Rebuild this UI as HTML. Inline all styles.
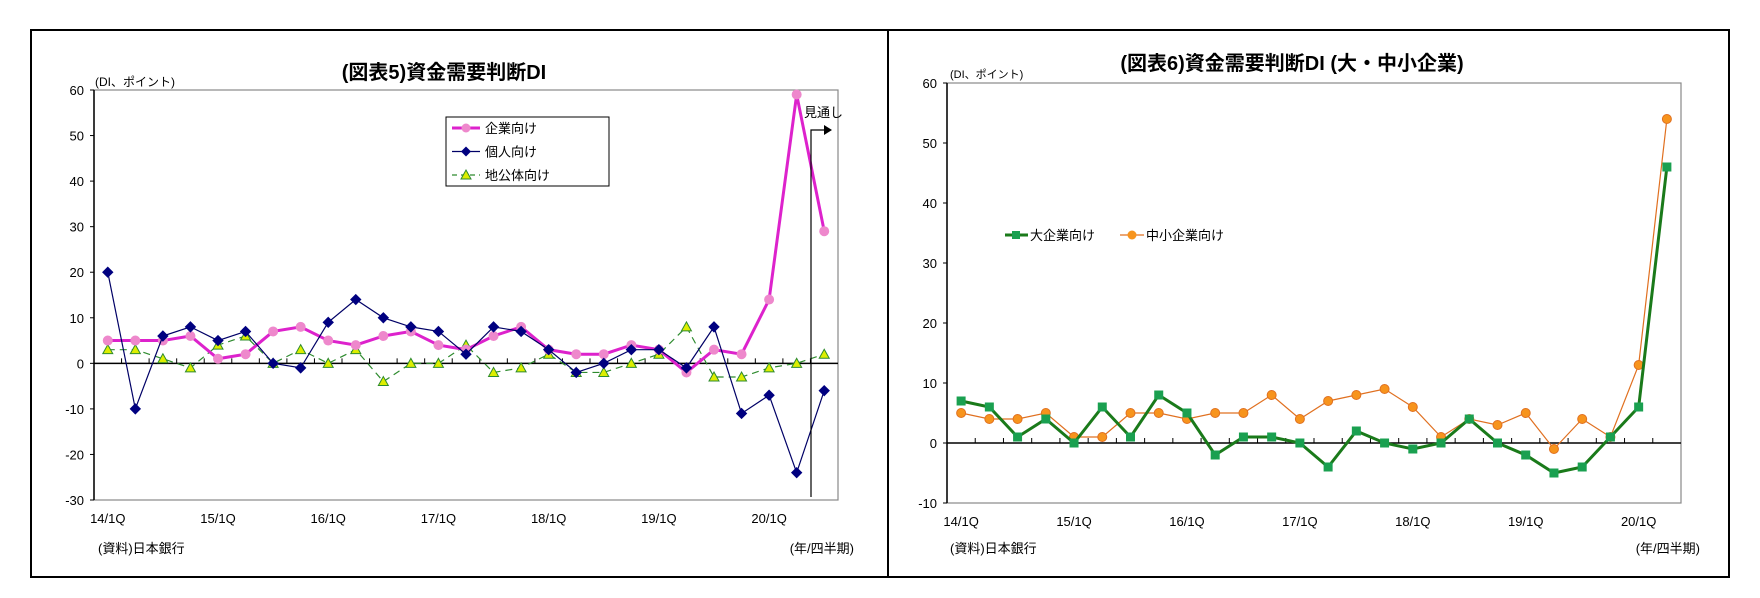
<!DOCTYPE html>
<html><head><meta charset="utf-8">
<style>
body{margin:0;background:#fff;}
svg{display:block;font-family:"Liberation Sans","Noto Sans CJK JP",sans-serif;}
</style></head>
<body>
<svg id="s" width="1760" height="598" xmlns="http://www.w3.org/2000/svg">
<rect x="31" y="30" width="1698" height="547" fill="none" stroke="#000" stroke-width="2"/>
<line x1="888" y1="30" x2="888" y2="577" stroke="#000" stroke-width="2"/>
<text x="444" y="79" font-size="20" font-weight="bold" text-anchor="middle">(図表5)資金需要判断DI</text>
<text x="95" y="86" font-size="12">(DI、ポイント)</text>
<text x="98" y="553" font-size="13">(資料)日本銀行</text>
<text x="854" y="553" font-size="13" text-anchor="end">(年/四半期)</text>
<text x="1292" y="70" font-size="20" font-weight="bold" text-anchor="middle">(図表6)資金需要判断DI (大・中小企業)</text>
<text x="950" y="78" font-size="11">(DI、ポイント)</text>
<text x="950" y="553" font-size="13">(資料)日本銀行</text>
<text x="1700" y="553" font-size="13" text-anchor="end">(年/四半期)</text>
<g id="g1"></g><g id="g2"></g>
</svg>
<script>
const xLabels5 = ["14/1Q","15/1Q","16/1Q","17/1Q","18/1Q","19/1Q","20/1Q"];
const yTicks5 = [60,50,40,30,20,10,0,-10,-20,-30];
const corp5 = [5,5,5,6,1,2,7,8,5,4,6,7,4,3,6,8,3,2,2,4,3,-2,3,2,14,59,29];
const indiv5 = [20,-10,6,8,5,7,0,-1,9,14,10,8,7,2,8,7,3,-2,0,3,3,-1,8,-11,-7,-24,-6];
const local5 = [3,3,1,-1,4,6,0,3,0,3,-4,0,0,4,-2,-1,2,-2,-2,0,2,8,-3,-3,-1,0,2];
const xLabels6 = ["14/1Q","15/1Q","16/1Q","17/1Q","18/1Q","19/1Q","20/1Q"];
const yTicks6 = [60,50,40,30,20,10,0,-10];
const large6 = [7,6,1,4,0,6,1,8,5,-2,1,1,0,-4,2,0,-1,0,4,0,-2,-5,-4,1,6,46];
const small6 = [5,4,4,5,1,1,5,5,4,5,5,8,4,7,8,9,6,1,4,3,5,-1,4,1,13,54];

const NS="http://www.w3.org/2000/svg";
function mk(parent,tag,attrs){const e=document.createElementNS(NS,tag);for(const k in attrs)e.setAttribute(k,attrs[k]);parent.appendChild(e);return e;}

function axes(g,L,R,T,B,ymin,ymax,n,yTicks,xLabels){
  const sx=i=>L+(i+0.5)*(R-L)/n;
  const sy=v=>T+(ymax-v)/(ymax-ymin)*(B-T);
  const box=mk(g,'rect',{x:L,y:T,width:R-L,height:B-T,fill:'none',stroke:'#888','stroke-width':1.2});
  
  
  const ya=mk(g,'line',{x1:L,y1:T,x2:L,y2:B,stroke:'#000','stroke-width':1.5});
  
  
  yTicks.forEach(v=>{
    const t=mk(g,'line',{x1:L-4,y1:sy(v),x2:L,y2:sy(v),stroke:'#000'});
    
    
    const tx=mk(g,'text',{x:L-10,y:sy(v)+5,'font-size':13,'text-anchor':'end'});
    tx.textContent=v;
    
    
  });
  const z=mk(g,'line',{x1:L,y1:sy(0),x2:R,y2:sy(0),stroke:'#000','stroke-width':1.5});
  
  
  for(let i=1;i<n;i++){
    const xx=L+i*(R-L)/n;
    const t=mk(g,'line',{x1:xx,y1:sy(0),x2:xx,y2:sy(0)-5,stroke:'#000'});
    
    
  }
  xLabels.forEach((lab,k)=>{
    const tx=mk(g,'text',{x:sx(k*4),y:B+23,'font-size':13,'text-anchor':'middle'});
    tx.textContent=lab;
    
    
  });
  return {sx,sy};
}
function series(g,data,sx,sy,color,width,dash,marker,mcolor,mstroke,name){
  const sg=mk(g,'g',{});
  
  
  const pts=data.map((v,i)=>sx(i)+','+sy(v)).join(' ');
  const pl=mk(sg,'polyline',{points:pts,fill:'none',stroke:color,'stroke-width':width,'stroke-dasharray':dash});
  
  
  data.forEach((v,i)=>{
    const x=sx(i),y=sy(v);let m;
    if(marker==='circle')m=mk(sg,'circle',{cx:x,cy:y,r:4.5,fill:mcolor,stroke:mstroke});
    else if(marker==='diamond')m=mk(sg,'polygon',{points:`${x},${y-5} ${x+5},${y} ${x},${y+5} ${x-5},${y}`,fill:mcolor,stroke:mstroke});
    else if(marker==='tri')m=mk(sg,'polygon',{points:`${x},${y-5} ${x+5},${y+4} ${x-5},${y+4}`,fill:mcolor,stroke:mstroke});
    else m=mk(sg,'rect',{x:x-4.5,y:y-4.5,width:9,height:9,fill:mcolor});
    
    
  });
}
// chart 5
const g1=document.getElementById('g1');
const a1=axes(g1,94,838,90,500,-30,60,27,yTicks5,xLabels5);
series(g1,local5,a1.sx,a1.sy,'#2e8b2e',1.2,'7,5','tri','#ddee00','#2e8b2e','series-local-gov');
series(g1,corp5,a1.sx,a1.sy,'#dd22cc',3,'','circle','#ee88cc','#ee88cc','series-corporate');
series(g1,indiv5,a1.sx,a1.sy,'#000066',1.2,'','diamond','#000080','#000080','series-individual');
const fl=mk(g1,'polyline',{points:'811,497 811,130 824,130',fill:'none',stroke:'#000','stroke-width':1.2});


const fa=mk(g1,'polygon',{points:'824,125 832,130 824,135',fill:'#000'});


const ft=mk(g1,'text',{x:804,y:117,'font-size':13});
ft.textContent='見通し';


// legend 5
const lg=mk(g1,'g',{});


mk(lg,'rect',{x:446,y:117,width:163,height:69,fill:'#fff',stroke:'#000','stroke-width':1});
const L5=[['企業向け','#dd22cc',3,'','circle','#ee88cc'],['個人向け','#000066',1.2,'','diamond','#000080'],['地公体向け','#2e8b2e',1.2,'5,4','tri','#ddee00']];
L5.forEach((r,k)=>{
  const y=128+k*23.5;
  const e=mk(lg,'g',{});
  
  
  mk(e,'line',{x1:452,y1:y,x2:480,y2:y,stroke:r[1],'stroke-width':r[2],'stroke-dasharray':r[3]});
  const x=466;
  if(r[4]==='circle')mk(e,'circle',{cx:x,cy:y,r:4.5,fill:r[5]});
  else if(r[4]==='diamond')mk(e,'polygon',{points:`${x},${y-5} ${x+5},${y} ${x},${y+5} ${x-5},${y}`,fill:r[5]});
  else mk(e,'polygon',{points:`${x},${y-5} ${x+5},${y+4} ${x-5},${y+4}`,fill:r[5],stroke:'#2e8b2e'});
  const t=mk(e,'text',{x:485,y:y+5,'font-size':13});t.textContent=r[0];
});
// chart 6
const g2=document.getElementById('g2');
const a2=axes(g2,947,1681,83,503,-10,60,26,yTicks6,xLabels6);
series(g2,small6,a2.sx,a2.sy,'#e07020',1.2,'','circle','#f7941d','#e07020','series-small-mid');
series(g2,large6,a2.sx,a2.sy,'#1a7a1a',3,'','square','#1aa050','#1aa050','series-large');
const lg2=mk(g2,'g',{});


const e1=mk(lg2,'g',{});


mk(e1,'line',{x1:1005,y1:235,x2:1028,y2:235,stroke:'#1a7a1a','stroke-width':3});
mk(e1,'rect',{x:1012,y:231,width:8,height:8,fill:'#1aa050'});
const t1=mk(e1,'text',{x:1030,y:240,'font-size':13});t1.textContent='大企業向け';
const e2=mk(lg2,'g',{});


mk(e2,'line',{x1:1120,y1:235,x2:1144,y2:235,stroke:'#e07020','stroke-width':1.2});
mk(e2,'circle',{cx:1132,cy:235,r:4.5,fill:'#f7941d'});
const t2=mk(e2,'text',{x:1146,y:240,'font-size':13});t2.textContent='中小企業向け';
</script>
</body></html>
